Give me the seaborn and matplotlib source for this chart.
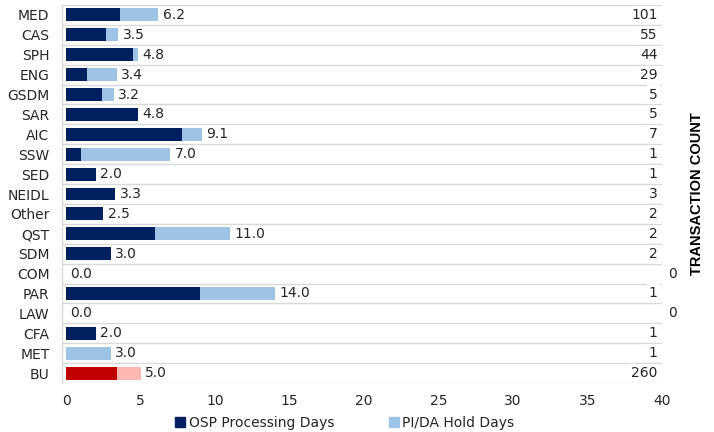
import matplotlib
matplotlib.use("Agg")
import matplotlib.pyplot as plt
from matplotlib.lines import Line2D
import seaborn as sns
import pandas as pd

# Departments, top to bottom
departments = ["MED", "CAS", "SPH", "ENG", "GSDM", "SAR", "AIC", "SSW", "SED",
               "NEIDL", "Other", "QST", "SDM", "COM", "PAR", "LAW", "CFA", "MET", "BU"]
# Average OSP processing days per department
osp_days = [3.6, 2.7, 4.5, 1.4, 2.4, 4.8, 7.8, 1.0, 2.0,
            3.3, 2.5, 6.0, 3.0, 0.0, 9.0, 0.0, 2.0, 0.0, 3.4]
# Average PI/DA hold days per department
hold_days = [2.6, 0.8, 0.3, 2.0, 0.8, 0.0, 1.3, 6.0, 0.0,
             0.0, 0.0, 5.0, 0.0, 0.0, 5.0, 0.0, 0.0, 3.0, 1.6]
# Number of transactions per department
transaction_counts = [101, 55, 44, 29, 5, 5, 7, 1, 1, 3, 2, 2, 2, 0, 1, 0, 1, 1, 260]

NAVY = "#002060"
LIGHT_BLUE = "#9DC3E6"
RED = "#C00000"
PINK = "#FFB7B2"
GRID = "#D9D9D9"
TEXT = "#262626"

df = pd.DataFrame({
    "dept": departments,
    "osp": osp_days,
    "hold": hold_days,
    "count": transaction_counts,
})
df["total"] = df["osp"] + df["hold"]

sns.set_theme(style="white")
plt.rcParams["font.family"] = ["DejaVu Sans"]

fig = plt.figure(figsize=(7.14, 4.32), dpi=100)
ax = fig.add_axes([62 / 714, 49 / 432, 600 / 714, 378 / 432])

total_palette = {d: (PINK if d == "BU" else LIGHT_BLUE) for d in departments}
osp_palette = {d: (RED if d == "BU" else NAVY) for d in departments}

# Full bar (processing + hold) drawn first, processing segment on top
sns.barplot(data=df, x="total", y="dept", hue="dept", palette=total_palette,
            orient="h", width=0.65, legend=False, ax=ax, linewidth=0,
            saturation=1)
sns.barplot(data=df, x="osp", y="dept", hue="dept", palette=osp_palette,
            orient="h", width=0.65, legend=False, ax=ax, linewidth=0,
            saturation=1)

ax.set_xlim(-0.27, 40)
ax.set_ylim(len(departments) - 0.5, -0.5)
ax.set_xticks(range(0, 41, 5))
ax.set_xlabel("")
ax.set_ylabel("")

# Row separators
for i in range(len(departments) + 1):
    ax.axhline(i - 0.5, color=GRID, linewidth=1.0, zorder=0)

for side in ["top", "right", "bottom"]:
    ax.spines[side].set_visible(False)
ax.spines["left"].set_color(GRID)
ax.spines["left"].set_linewidth(1.0)

ax.tick_params(axis="both", length=0, labelsize=10, colors=TEXT)
ax.tick_params(axis="x", pad=8)
ax.tick_params(axis="y", pad=9)

# Total-day labels at bar ends
for i, row in df.iterrows():
    ax.text(row["total"] + 0.3, i, f"{row['total']:.1f}", va="center", ha="left",
            fontsize=10, color=TEXT)

# Transaction counts along the right edge
for i, row in df.iterrows():
    if row["count"] == 0:
        ax.text(40.4, i, "0", va="center", ha="left", fontsize=10, color=TEXT,
                clip_on=False)
    else:
        ax.text(39.7, i, f"{row['count']}", va="center", ha="right", fontsize=10,
                color=TEXT, clip_on=False,
                bbox=dict(facecolor="white", edgecolor="none", pad=1.5))

fig.text(697 / 714, 1 - 194 / 432, "TRANSACTION COUNT", rotation=90,
         ha="center", va="center", fontsize=10.5, fontweight="bold",
         family=["Liberation Sans", "DejaVu Sans"], color="#000000")

handles = [
    Line2D([], [], marker="s", linestyle="none", markersize=7,
           markerfacecolor=NAVY, markeredgecolor=NAVY, label="OSP Processing Days"),
    Line2D([], [], marker="s", linestyle="none", markersize=7,
           markerfacecolor=LIGHT_BLUE, markeredgecolor=LIGHT_BLUE, label="PI/DA Hold Days"),
]
fig.legend(handles=handles, loc="center", bbox_to_anchor=(344 / 714, 1 - 423 / 432),
           ncol=2, frameon=False, fontsize=10, handletextpad=0.1,
           columnspacing=3.8, handlelength=1.0, labelcolor=TEXT)

fig.savefig("out.png", dpi=100)
